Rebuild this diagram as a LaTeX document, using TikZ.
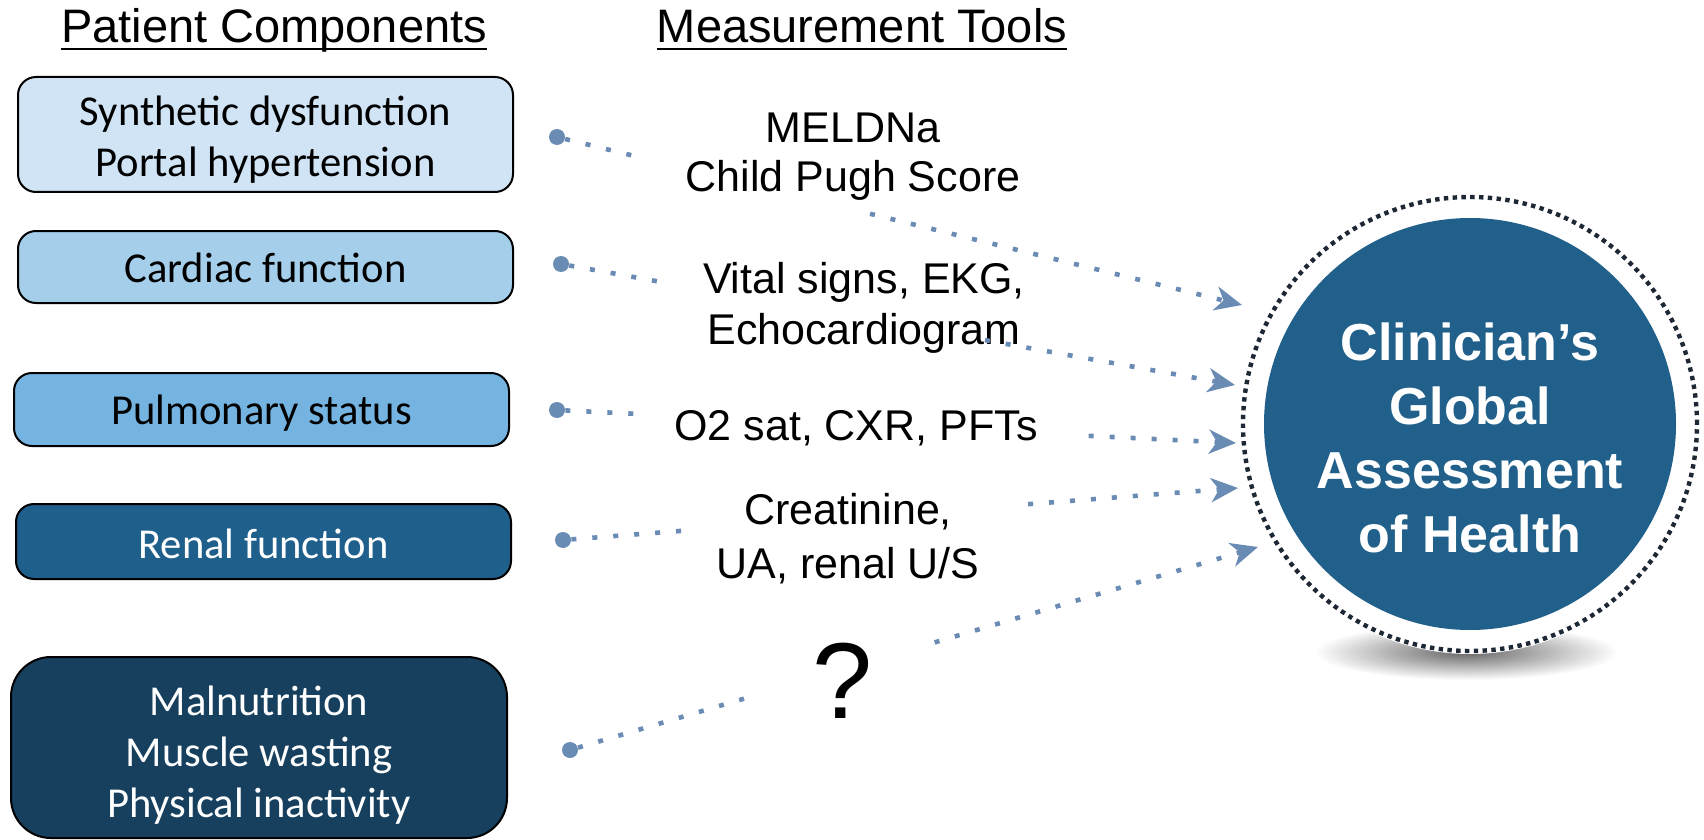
\documentclass[tikz,border=0pt]{standalone}
\usepackage{fontspec}
\setmainfont{Liberation Sans}
\newfontfamily\boxfont{Carlito}
\usetikzlibrary{arrows.meta,calc}

\definecolor{boxA}{RGB}{208,228,245}
\definecolor{boxB}{RGB}{164,206,234}
\definecolor{boxC}{RGB}{117,180,224}
\definecolor{boxD}{RGB}{31,95,139}
\definecolor{boxE}{RGB}{22,64,94}
\definecolor{hubblue}{RGB}{32,96,138}
\definecolor{ringdark}{RGB}{30,40,52}
\definecolor{linkblue}{RGB}{106,139,179}

\begin{document}
\begin{tikzpicture}[x=0.5pt,y=-0.5pt,
  comp/.style={draw=black, line width=1pt, rounded corners=9pt,
    minimum width=247.5pt, inner sep=0pt},
  comptext/.style={align=center, inner sep=0pt,
    font=\boxfont\fontsize{21.3}{25.5}\selectfont},
  tool/.style={align=center, inner sep=0pt, font=\fontsize{21.5}{24.5}\selectfont},
  head/.style={inner sep=0pt, anchor=base, font=\fontsize{23.5}{28}\selectfont},
  pin/.style={circle, fill=linkblue, minimum size=8pt, inner sep=0pt},
  feed/.style={draw=linkblue, line width=2.3pt, dash pattern=on 2.5pt off 8pt},
  feedtip/.style={feed, -{Stealth[length=13.5pt, width=12pt, inset=4pt]}},
]
\useasboundingbox (0,0) rectangle (1704,840);

% column headings
\node[head] (h1) at (274,43) {Patient Components};
\node[head] (h2) at (862,43) {Measurement Tools};
\draw[line width=1pt] ([yshift=-3pt]h1.base west) -- ([yshift=-3pt]h1.base east);
\draw[line width=1pt] ([yshift=-3pt]h2.base west) -- ([yshift=-3pt]h2.base east);

% patient components
\node[comp, fill=boxA, minimum height=57.5pt] (c1) at (265.5,134.5) {};
\node[comptext] (c1t) at ([yshift=-2.5pt]c1.center) {Synthetic dysfunction\\Portal hypertension};
\node[comp, fill=boxB, minimum height=36pt] (c2) at (265.5,267) {};
\node[comptext] (c2t) at ([yshift=-0.6pt]c2.center) {Cardiac function};
\node[comp, fill=boxC, minimum height=36.5pt] (c3) at (261.5,409.5) {};
\node[comptext] (c3t) at ([yshift=-2pt]c3.center) {Pulmonary status};
\node[comp, fill=boxD, minimum height=37.5pt] (c4) at (263.5,541.5) {};
\node[comptext, text=white] (c4t) at ([yshift=-1pt]c4.center) {Renal function};
\node[comp, fill=boxE, minimum height=90.5pt, minimum width=248pt, rounded corners=20pt] (c5) at (259,747.5) {};
\node[comptext, text=white] (c5t) at ([yshift=-3.8pt]c5.center)
  {Malnutrition\\Muscle wasting\\Physical inactivity};

% central assessment
\shade[inner color=black!60, outer color=white] (1466,652) ellipse [x radius=76pt, y radius=14pt];
\fill[white] (1470,424) circle[radius=115pt];
\node[circle, fill=hubblue, minimum size=206pt, inner sep=0pt] (hub) at (1470,424) {};
\draw[ringdark, line width=2.2pt, dash pattern=on 2.2pt off 2.2pt] (hub.center) circle[radius=113.5pt];
\node[text=white, align=center, inner sep=0pt, font=\bfseries\fontsize{26}{32}\selectfont]
  (hubtext) at (1470,438) {Clinician’s\\Global\\Assessment\\of Health};

% measurement tools
\node[tool] (m1) at (853,157) {MELDNa\\Child Pugh Score};
\node[tool, font=\fontsize{21.5}{25.5}\selectfont] (m2) at (864,308) {Vital signs, EKG,\\Echocardiogram};
\node[tool] (m3) at (856,428) {O2 sat, CXR, PFTs};
\node[tool, font=\fontsize{21.5}{27}\selectfont] (m4) at (848,539) {Creatinine,\\UA, renal U/S};
\node[inner sep=0pt, font=\fontsize{54}{60}\selectfont] (m5) at (843,681) {?};

% start pins and arrow ends
\node[pin] (d1) at (557,137) {};
\node[pin] (d2) at (561,264) {};
\node[pin] (d3) at (557,410) {};
\node[pin] (d4) at (563,540) {};
\node[pin] (d5) at (570,750) {};
\coordinate (t1) at (1242,305);
\coordinate (t2) at (1235,385);
\coordinate (t3) at (1236,443);
\coordinate (t4) at (1238,488);
\coordinate (t5) at (1258,547);

% dotted feeds, broken where the tool text sits
\draw[feed] (d1) -- ($(d1)!0.128!(t1)$);
\draw[feedtip] ($(d1)!0.457!(t1)$) -- (t1);
\draw[feed] (d2) -- ($(d2)!0.162!(t2)$);
\draw[feedtip] ($(d2)!0.629!(t2)$) -- (t2);
\draw[feed] (d3) -- ($(d3)!0.122!(t3)$);
\draw[feedtip] ($(d3)!0.783!(t3)$) -- (t3);
\draw[feed] (d4) -- ($(d4)!0.187!(t4)$);
\draw[feedtip] ($(d4)!0.689!(t4)$) -- (t4);
\draw[feed] (d5) -- ($(d5)!0.263!(t5)$);
\draw[feedtip] ($(d5)!0.530!(t5)$) -- (t5);
\end{tikzpicture}
\end{document}
